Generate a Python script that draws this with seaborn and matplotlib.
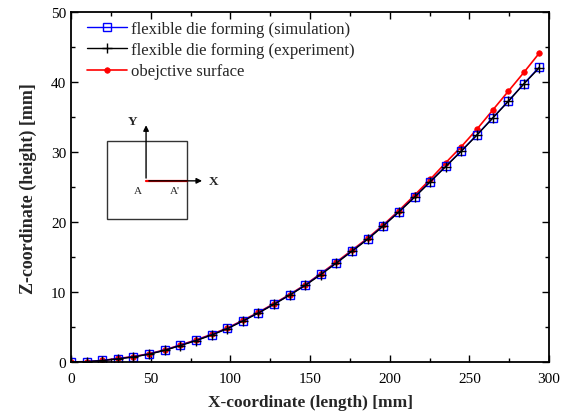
import numpy as np
import pandas as pd
import matplotlib
matplotlib.use('Agg')
import matplotlib.pyplot as plt
import seaborn as sns

# Data (mm)
x_mm = [0, 9.8, 19.6, 29.4, 39.2, 49.0, 58.8, 68.6, 78.4, 88.2, 98.0,
        107.8, 117.6, 127.4, 137.2, 147.0, 156.8, 166.6, 176.4, 186.2, 196.0,
        205.8, 215.6, 225.4, 235.2, 245.0, 254.8, 264.6, 274.4, 284.2, 294.0]
z_simulation = [0.0, 0.05, 0.22, 0.48, 0.75, 1.15, 1.7, 2.4, 3.1, 3.9, 4.8,
                5.9, 7.05, 8.3, 9.6, 11.0, 12.6, 14.2, 15.9, 17.6, 19.5,
                21.5, 23.6, 25.8, 28.0, 30.2, 32.5, 34.9, 37.3, 39.8, 42.2]
z_experiment = [0.0, 0.05, 0.2, 0.45, 0.72, 1.12, 1.66, 2.35, 3.05, 3.85, 4.75,
                5.85, 7.0, 8.25, 9.55, 10.95, 12.5, 14.15, 15.85, 17.55, 19.45,
                21.45, 23.55, 25.75, 27.95, 30.15, 32.45, 34.85, 37.25, 39.75, 42.1]
z_objective = [0.0, 0.05, 0.22, 0.5, 0.78, 1.18, 1.73, 2.43, 3.15, 3.95, 4.85,
               5.95, 7.1, 8.35, 9.65, 11.05, 12.65, 14.3, 16.0, 17.7, 19.6,
               21.65, 23.85, 26.1, 28.5, 30.8, 33.3, 36.0, 38.7, 41.4, 44.2]

sns.set_style('ticks')
plt.rcParams['font.family'] = ['Liberation Serif', 'DejaVu Serif']

fig = plt.figure(figsize=(5.69, 4.14), dpi=100)
ax = fig.add_axes([0.1248, 0.1232, 0.8401, 0.8447])

df = pd.DataFrame({'x': x_mm, 'sim': z_simulation, 'exp': z_experiment, 'obj': z_objective})

sns.lineplot(data=df, x='x', y='obj', ax=ax, color='red', lw=1.2, marker='o',
             markersize=4, markeredgecolor='red', markeredgewidth=0.5,
             label='obejctive surface')
sns.lineplot(data=df, x='x', y='sim', ax=ax, color='blue', lw=1.0, marker='s',
             markersize=6, markerfacecolor='none', markeredgecolor='blue',
             markeredgewidth=1.0, label='flexible die forming (simulation)')
sns.lineplot(data=df, x='x', y='exp', ax=ax, color='black', lw=1.0, marker='+',
             markersize=7, markeredgecolor='black', markeredgewidth=1.0,
             label='flexible die forming (experiment)')

ax.set_xlim(0, 300)
ax.set_ylim(0, 50)
ax.set_xticks([0, 50, 100, 150, 200, 250, 300])
ax.set_xticks(np.arange(25, 300, 50), minor=True)
ax.set_yticks([0, 10, 20, 30, 40, 50])
ax.set_yticks(np.arange(5, 50, 10), minor=True)
ax.tick_params(which='both', direction='in', top=True, right=True, width=1.0,
               labelsize=11, colors='black')
ax.tick_params(which='major', length=5)
ax.tick_params(which='minor', length=3)
ax.tick_params(axis='x', pad=7)
for s in ax.spines.values():
    s.set_linewidth(1.3)
    s.set_color('black')

ax.set_xlabel('X-coordinate (length) [mm]', fontsize=12.5, fontweight='bold', labelpad=7)
ax.set_ylabel('Z-coordinate (height) [mm]', fontsize=13, fontweight='bold', labelpad=10)

handles, labels = ax.get_legend_handles_labels()
order = [1, 2, 0]
ax.legend([handles[i] for i in order], [labels[i] for i in order], loc='upper left',
          frameon=False, fontsize=12, handlelength=2.4, handletextpad=0.2,
          labelspacing=0.32, borderaxespad=0.0, bbox_to_anchor=(0.02, 0.995))

# inset sketch of the section line A-A'
T = ax.transAxes
ax.add_patch(plt.Rectangle((0.0753, 0.4086), 0.1667, 0.2234, transform=T,
                           fill=False, edgecolor='#333333', lw=1.0))
ax.annotate('', xy=(0.157, 0.685), xytext=(0.157, 0.518), xycoords=T,
            arrowprops=dict(arrowstyle='-|>', color='black', lw=1.0, mutation_scale=8))
ax.annotate('', xy=(0.280, 0.518), xytext=(0.157, 0.518), xycoords=T,
            arrowprops=dict(arrowstyle='-|>', color='black', lw=1.0, mutation_scale=8))
ax.plot([0.157, 0.242], [0.518, 0.518], transform=T, color='red', lw=1.6)
ax.text(0.129, 0.688, 'Y', transform=T, fontsize=9.5, fontweight='bold', ha='center', va='center')
ax.text(0.298, 0.518, 'X', transform=T, fontsize=9.5, fontweight='bold', ha='center', va='center')
ax.text(0.1395, 0.490, 'A', transform=T, fontsize=8, ha='center', va='center')
ax.text(0.2176, 0.490, "A'", transform=T, fontsize=8, ha='center', va='center')

fig.savefig('out.png', dpi=100)
